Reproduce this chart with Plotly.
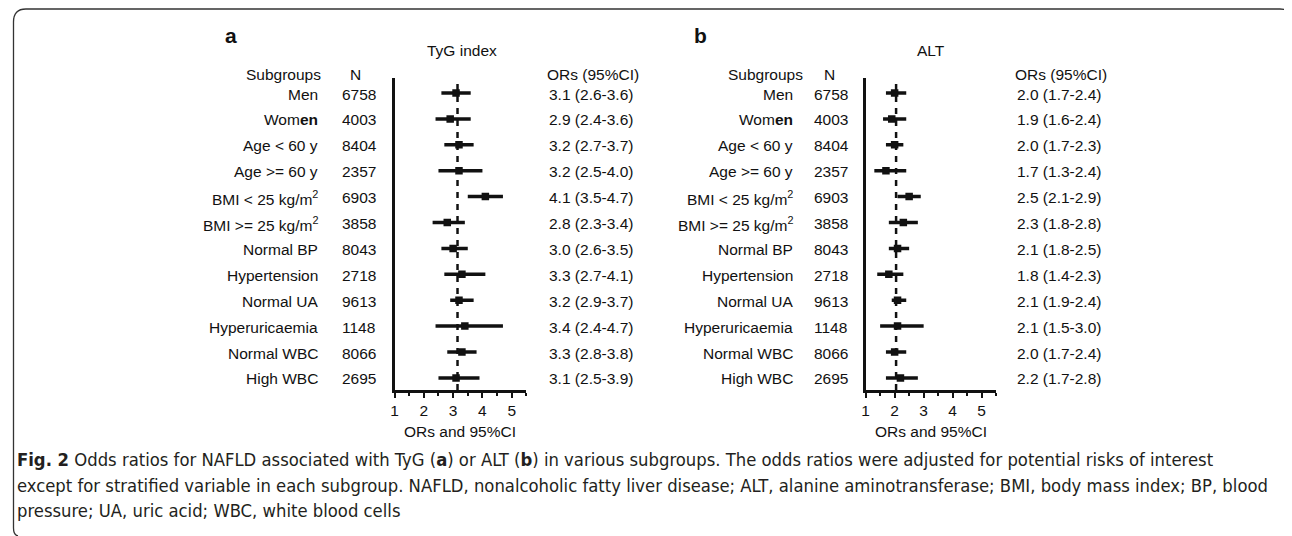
import plotly.graph_objects as go

OFF = 8  # page body margin of the html page
W, H = 1292 - OFF, 536 - OFF

subgroups = ["Men", "Wom<b>en</b>", "Age < 60 y", "Age >= 60 y", "BMI < 25 kg/m<sup>2</sup>",
             "BMI >= 25 kg/m<sup>2</sup>", "Normal BP", "Hypertension", "Normal UA",
             "Hyperuricaemia", "Normal WBC", "High WBC"]
n_values = [6758, 4003, 8404, 2357, 6903, 3858, 8043, 2718, 9613, 1148, 8066, 2695]

tyg_or = [3.1, 2.9, 3.2, 3.2, 4.1, 2.8, 3.0, 3.3, 3.2, 3.4, 3.3, 3.1]
tyg_lo = [2.6, 2.4, 2.7, 2.5, 3.5, 2.3, 2.6, 2.7, 2.9, 2.4, 2.8, 2.5]
tyg_hi = [3.6, 3.6, 3.7, 4.0, 4.7, 3.4, 3.5, 4.1, 3.7, 4.7, 3.8, 3.9]
tyg_ref = 3.15

alt_or = [2.0, 1.9, 2.0, 1.7, 2.5, 2.3, 2.1, 1.8, 2.1, 2.1, 2.0, 2.2]
alt_lo = [1.7, 1.6, 1.7, 1.3, 2.1, 1.8, 1.8, 1.4, 1.9, 1.5, 1.7, 1.7]
alt_hi = [2.4, 2.4, 2.3, 2.4, 2.9, 2.8, 2.5, 2.3, 2.4, 3.0, 2.4, 2.8]
alt_ref = 2.05

x_ticks = [1, 2, 3, 4, 5]

caption_lines = [
    "<b>Fig. 2</b> Odds ratios for NAFLD associated with TyG (<b>a</b>) or ALT (<b>b</b>) in various subgroups. The odds ratios were adjusted for potential risks of interest",
    "except for stratified variable in each subgroup. NAFLD, nonalcoholic fatty liver disease; ALT, alanine aminotransferase; BMI, body mass index; BP, blood",
    "pressure; UA, uric acid; WBC, white blood cells",
]


def fx(p):
    return (p - OFF) / W


def fy(p):
    return 1 - (p - OFF) / H


FONT = "Liberation Sans, Arial, sans-serif"
FS = 15.5
rows = list(range(len(subgroups)))
row0, rowstep = 93.0, 25.9
ytop, ybot = 78.0, 390.0
yrange = [(ybot - row0) / rowstep, (ytop - row0) / rowstep]

fig = go.Figure()

panels = [
    dict(xa="x", ya="y", ors=tyg_or, lo=tyg_lo, hi=tyg_hi, ref=tyg_ref,
         dom=(391.7, 391.7 + 4.5 * 29.4), title="TyG index", letter="a",
         letter_x=220, title_x=459, sub_r=320, lab_r=317, n_c=353, n_l=337, or_l=543),
    dict(xa="x2", ya="y2", ors=alt_or, lo=alt_lo, hi=alt_hi, ref=alt_ref,
         dom=(864.3, 864.3 + 4.5 * 29.1), title="ALT", letter="b",
         letter_x=690, title_x=930, sub_r=803, lab_r=793, n_c=828, n_l=811, or_l=1012),
]

annotations = []
shapes = []
for k, p in enumerate(panels):
    fig.add_trace(go.Scatter(
        x=p["ors"], y=rows, mode="markers", xaxis=p["xa"], yaxis=p["ya"],
        marker=dict(symbol="square", size=7.5, color="#111"),
        error_x=dict(type="data", symmetric=False,
                     array=[h - o for h, o in zip(p["hi"], p["ors"])],
                     arrayminus=[o - l for o, l in zip(p["ors"], p["lo"])],
                     thickness=3.5, width=0, color="#111"),
        showlegend=False, hoverinfo="skip"))
    shapes.append(dict(type="line", xref=p["xa"], yref=p["ya"] + " domain",
                       x0=p["ref"], x1=p["ref"], y0=0, y1=1,
                       line=dict(color="#111", width=2.5, dash="6px,6px"), layer="below"))
    ref_y = p["ya"]
    for i, (lab, n, o, l, h) in enumerate(zip(subgroups, n_values, p["ors"], p["lo"], p["hi"])):
        annotations.append(dict(x=fx(p["lab_r"]), xref="paper", y=i, yref=ref_y, text=lab,
                                showarrow=False, xanchor="right", yanchor="middle", yshift=-1,
                                font=dict(family=FONT, size=FS, color="#111")))
        annotations.append(dict(x=fx(p["n_l"]), xref="paper", y=i, yref=ref_y, text=str(n),
                                showarrow=False, xanchor="left", yanchor="middle", yshift=-1,
                                font=dict(family=FONT, size=FS, color="#111")))
        annotations.append(dict(x=fx(p["or_l"] + 2), xref="paper", y=i, yref=ref_y,
                                text=f"{o:.1f} ({l:.1f}-{h:.1f})",
                                showarrow=False, xanchor="left", yanchor="middle", yshift=-1,
                                font=dict(family=FONT, size=FS, color="#111")))
    hdr_y = fy(74)
    annotations += [
        dict(x=fx(p["sub_r"]), xref="paper", y=hdr_y, yref="paper", text="Subgroups",
             showarrow=False, xanchor="right", yanchor="middle",
             font=dict(family=FONT, size=FS, color="#111")),
        dict(x=fx(p["n_c"]), xref="paper", y=hdr_y, yref="paper", text="N",
             showarrow=False, xanchor="center", yanchor="middle",
             font=dict(family=FONT, size=FS, color="#111")),
        dict(x=fx(p["or_l"]), xref="paper", y=hdr_y, yref="paper", text="ORs (95%CI)",
             showarrow=False, xanchor="left", yanchor="middle",
             font=dict(family=FONT, size=FS, color="#111")),
        dict(x=fx(p["title_x"]), xref="paper", y=fy(51), yref="paper", text=p["title"],
             showarrow=False, xanchor="center", yanchor="middle",
             font=dict(family=FONT, size=FS, color="#111")),
        dict(x=fx(p["letter_x"]), xref="paper", y=fy(35), yref="paper", text="<b>" + p["letter"] + "</b>",
             showarrow=False, xanchor="left", yanchor="middle",
             font=dict(family=FONT, size=21, color="#111")),
        dict(x=fx(p["dom"][0] + 65.5), xref="paper", y=fy(431), yref="paper", text="ORs and 95%CI",
             showarrow=False, xanchor="center", yanchor="middle",
             font=dict(family=FONT, size=FS, color="#111")),
    ]

cap_y = [459, 485, 510]
for line, yy in zip(caption_lines, cap_y):
    annotations.append(dict(x=fx(11), xref="paper", y=fy(yy), yref="paper", text=line,
                            showarrow=False, xanchor="left", yanchor="middle",
                            font=dict(family="DejaVu Sans Condensed, Liberation Sans Narrow, sans-serif",
                                      size=18.3, color="#231f20")))

# border frame (top edge kept just inside the drawable area)
TOP = 9
path = (f"M {fx(1291)},{fy(17)} Q {fx(1290)},{fy(TOP)} {fx(1280)},{fy(TOP)} "
        f"L {fx(22)},{fy(TOP)} Q {fx(9.5)},{fy(TOP)} {fx(9.5)},{fy(22)} "
        f"L {fx(9.5)},{fy(528)} Q {fx(9.5)},{fy(535)} {fx(14)},{fy(536)}")
shapes.append(dict(type="path", xref="paper", yref="paper", path=path,
                   line=dict(color="#333", width=1.3)))

axis_common = dict(range=[1, 5.5], showline=True, linecolor="#111", linewidth=2.5,
                   ticks="outside", ticklen=5, tickwidth=2, tickcolor="#111",
                   tickvals=x_ticks, ticktext=[str(t) for t in x_ticks],
                   minor=dict(dtick=0.5, tick0=1, ticks="outside", ticklen=3, tickwidth=2, tickcolor="#111"),
                   showgrid=False, zeroline=False, fixedrange=True,
                   tickfont=dict(family=FONT, size=FS, color="#111"))
yaxis_common = dict(range=yrange, showline=True, linecolor="#111", linewidth=3,
                    showticklabels=False, ticks="", showgrid=False, zeroline=False,
                    domain=[fy(ybot), fy(ytop)])

fig.update_layout(
    width=W, height=H, margin=dict(l=0, r=0, t=0, b=0),
    paper_bgcolor="white", plot_bgcolor="white",
    xaxis=dict(domain=[fx(panels[0]["dom"][0]), fx(panels[0]["dom"][1])], anchor="y", **axis_common),
    yaxis=dict(anchor="x", **yaxis_common),
    xaxis2=dict(domain=[fx(panels[1]["dom"][0]), fx(panels[1]["dom"][1])], anchor="y2", **axis_common),
    yaxis2=dict(anchor="x2", **yaxis_common),
    annotations=annotations, shapes=shapes, showlegend=False,
)

fig.write_html("out.html")
